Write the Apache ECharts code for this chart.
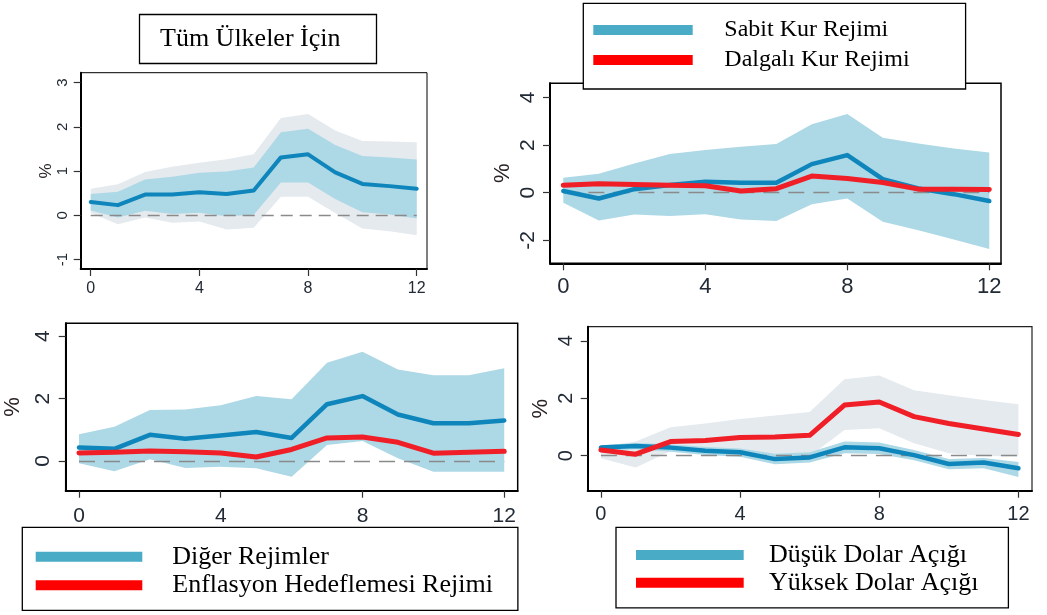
<!DOCTYPE html>
<html><head><meta charset="utf-8">
<script src="https://cdn.jsdelivr.net/npm/echarts@6/dist/echarts.min.js"></script>
<style>html,body{margin:0;padding:0;background:#fff}#c{width:1047px;height:615px}</style>
</head><body><div id="c"></div>
<script>
// ---- data ----
const horizons = [0,1,2,3,4,5,6,7,8,9,10,11,12];
const xTicks = [0,4,8,12];
const yTicks1 = [-1,0,1,2,3];
const yTicks2 = [-2,0,2,4];
const yTicks34 = [0,2,4];

// Panel 1: Tüm Ülkeler İçin
const allMean      = [0.30,0.23,0.47,0.47,0.52,0.48,0.56,1.31,1.38,0.97,0.71,0.66,0.60];
const allInnerLow  = [0.11,-0.05,0.10,0.03,0.06,-0.02,0.01,0.74,0.74,0.37,0.07,0.02,-0.07];
const allInnerHigh = [0.48,0.53,0.81,0.87,0.96,0.99,1.08,1.88,1.96,1.59,1.34,1.31,1.26];
const allOuterLow  = [0.05,-0.20,-0.05,-0.17,-0.14,-0.32,-0.28,0.42,0.42,0.05,-0.30,-0.36,-0.45];
const allOuterHigh = [0.60,0.70,0.98,1.10,1.19,1.27,1.38,2.20,2.29,1.92,1.68,1.67,1.65];

// Panel 2: Sabit / Dalgalı
const fixMean   = [0.07,-0.24,0.15,0.32,0.46,0.42,0.42,1.20,1.58,0.57,0.18,-0.06,-0.35];
const floatMean = [0.31,0.38,0.35,0.31,0.29,0.07,0.17,0.70,0.60,0.43,0.15,0.15,0.14];
const fixLow    = [-0.42,-1.17,-0.91,-0.98,-0.90,-1.12,-1.19,-0.48,-0.24,-1.22,-1.57,-1.96,-2.36];
const fixHigh   = [0.63,0.80,1.23,1.62,1.79,1.93,2.04,2.87,3.30,2.31,2.07,1.86,1.69];

// Panel 3: Diğer / Enflasyon Hedeflemesi
const otherMean = [0.43,0.39,0.84,0.71,0.82,0.93,0.74,1.82,2.08,1.49,1.21,1.21,1.30];
const itMean    = [0.26,0.28,0.32,0.30,0.26,0.13,0.37,0.74,0.77,0.60,0.25,0.28,0.31];
const otherLow  = [-0.07,-0.33,0.06,-0.22,-0.18,-0.23,-0.50,0.51,0.64,0.09,-0.34,-0.34,-0.34];
const otherHigh = [0.86,1.10,1.63,1.65,1.79,2.08,1.98,3.15,3.50,2.93,2.75,2.75,2.97];

// Panel 4: Düşük / Yüksek Dolar Açığı
const lowDolMean  = [0.28,0.34,0.28,0.17,0.12,-0.12,-0.06,0.29,0.26,0.02,-0.29,-0.24,-0.44];
const lowDolLow   = [0.16,0.22,0.14,0.02,-0.04,-0.30,-0.24,0.08,0.06,-0.16,-0.47,-0.44,-0.74];
const lowDolHigh  = [0.36,0.44,0.40,0.30,0.25,0.07,0.12,0.49,0.46,0.20,-0.12,-0.08,-0.22];
const highDolMean = [0.20,0.05,0.49,0.53,0.63,0.65,0.71,1.76,1.87,1.36,1.12,0.93,0.74];
const highDolLow  = [-0.09,-0.41,0.15,0.08,0.04,-0.02,-0.02,0.89,0.95,0.43,0.08,-0.01,-0.03];
const highDolHigh = [0.31,0.49,0.99,1.12,1.28,1.40,1.52,2.66,2.79,2.28,2.10,1.94,1.79];

const names = {
  title: 'Tüm Ülkeler İçin',
  fix: 'Sabit Kur Rejimi', flt: 'Dalgalı Kur Rejimi',
  other: 'Diğer Rejimler', it: 'Enflasyon Hedeflemesi Rejimi',
  low: 'Düşük Dolar Açığı', high: 'Yüksek Dolar Açığı'
};

// ---- styling ----
const BLUE = '#0e85bb', RED = '#f01f27', BAND = '#add8e6', GREY = '#e5eaee';
const LEG_BLUE = '#4aabc6', LEG_RED = '#ff0000';
const LBL = '#222a35';
const SANS = '"Liberation Sans", Arial, sans-serif';
const SERIF = '"Liberation Serif", "Times New Roman", serif';

const pair = arr => horizons.map((x, i) => [x, arr[i]]);

function xAx(gi, min, max, fs, margin) {
  return { type:'value', gridIndex:gi, min, max,
    axisLine:{show:true, onZero:false, lineStyle:{color:'#000', width:2}},
    axisTick:{show:true, customValues:xTicks, length:7, lineStyle:{color:'#333', width:1.2}},
    axisLabel:{customValues:xTicks, fontSize:fs, fontFamily:SANS, color:LBL, margin},
    splitLine:{show:false} };
}
function yAx(gi, min, max, ticks, fs, margin, nameGap, nfs) {
  return { type:'value', gridIndex:gi, min, max,
    name:'%', nameLocation:'middle', nameRotate:90, nameGap,
    nameTextStyle:{fontSize:nfs, fontFamily:SANS, color:'#2a2226'},
    axisLine:{show:true, onZero:false, lineStyle:{color:'#000', width:2}},
    axisTick:{show:true, customValues:ticks, length:7, lineStyle:{color:'#333', width:1.2}},
    axisLabel:{customValues:ticks, rotate:90, fontSize:fs, fontFamily:SANS, color:LBL, margin},
    splitLine:{show:false} };
}
// confidence band drawn as one polygon through the axes' scales
function band(gi, low, high, color) {
  return {type:'custom', xAxisIndex:gi, yAxisIndex:gi, silent:true, z:1,
    data: horizons.map((x, i) => [x, low[i], high[i]]),
    encode:{x:0, y:[1,2]},
    renderItem(params, api) {
      if (params.dataIndex !== 0) return null;
      const up = horizons.map((x, i) => api.coord([x, high[i]]));
      const dn = horizons.map((x, i) => api.coord([x, low[i]])).reverse();
      return {type:'polygon', shape:{points: up.concat(dn)}, style:{fill:color, stroke:null}};
    }};
}
function meanLine(gi, name, arr, color, width, z, zero, dash) {
  const s = {type:'line', name, xAxisIndex:gi, yAxisIndex:gi, data:pair(arr), symbol:'none',
    lineStyle:{color, width, join:'round', cap:'round'}, itemStyle:{color}, z, silent:true};
  if (zero) s.markLine = {silent:true, symbol:'none', label:{show:false}, z:2,
    lineStyle:{color:'#8a8a8a', type:dash, width:1.3},
    data:[[{coord:[horizons[0], 0]}, {coord:[horizons[horizons.length-1], 0]}]]};
  return s;
}
function legend(left, top, padding, iw, fs, lh, gap, items) {
  return { orient:'vertical', left, top, padding, itemWidth:iw, itemHeight:10, itemGap:0,
    icon:'rect', borderColor:'#000', borderWidth:1.3, backgroundColor:'#fff', selectedMode:false,
    textStyle:{fontFamily:SERIF, fontSize:fs, color:'#000', lineHeight:lh, padding:[0,0,0,gap]},
    data: items.map(([name, color]) => ({name, itemStyle:{color}})) };
}

const option = {
  animation:false,
  backgroundColor:'#fff',
  title:{ text:names.title, left:139, top:14, padding:[10,36,10,21],
    borderColor:'#000', borderWidth:1.3,
    textStyle:{fontFamily:SERIF, fontSize:26, fontWeight:'normal', color:'#000', lineHeight:30} },
  grid:[
    {left:80.7, top:72.7, width:346.3, height:196.3, show:true, borderColor:'#000', borderWidth:1, backgroundColor:'#fff'},
    {left:550, top:83.3, width:451, height:180, show:true, borderColor:'#000', borderWidth:1.5, backgroundColor:'#fff'},
    {left:65.7, top:323.3, width:452, height:167.4, show:true, borderColor:'#000', borderWidth:1.5, backgroundColor:'#fff'},
    {left:587.7, top:326.7, width:444.3, height:164, show:true, borderColor:'#222', borderWidth:1.2, backgroundColor:'#fff'}
  ],
  xAxis:[
    xAx(0, -0.368, 12.378, 16, 12),
    xAx(1, -0.375, 12.33, 22, 13),
    xAx(2, -0.375, 12.38, 21, 15),
    xAx(3, -0.38, 12.39, 20, 14)
  ],
  yAxis:[
    yAx(0, -1.215, 3.226, yTicks1, 15, 10, 20, 17),
    yAx(1, -2.96, 4.59, yTicks2, 21, 11, 36, 22),
    yAx(2, -0.95, 4.41, yTicks34, 21, 12, 42, 22),
    yAx(3, -1.22, 4.49, yTicks34, 20, 11, 36, 22)
  ],
  legend:[
    legend(583.3, 3.3, [11.7,56,14,10], 99.4, 24, 30, 26.6, [[names.fix, LEG_BLUE],[names.flt, LEG_RED]]),
    legend(22.3, 527.3, [15.4,25,11,13.4], 106.6, 26, 28.3, 25, [[names.other, LEG_BLUE],[names.it, LEG_RED]]),
    legend(616, 527.3, [13.9,30,11.2,20], 107.7, 26, 27.7, 20.3, [[names.low, LEG_BLUE],[names.high, LEG_RED]])
  ],
  series:[
    band(0, allOuterLow, allOuterHigh, GREY),
    band(0, allInnerLow, allInnerHigh, BAND),
    meanLine(0, 'all', allMean, BLUE, 4, 3, true, [12,7]),

    band(1, fixLow, fixHigh, BAND),
    meanLine(1, names.fix, fixMean, BLUE, 4.5, 3, true, [16,9]),
    meanLine(1, names.flt, floatMean, RED, 5, 4, false),

    band(2, otherLow, otherHigh, BAND),
    meanLine(2, names.other, otherMean, BLUE, 4.5, 3, true, [16,9]),
    meanLine(2, names.it, itMean, RED, 5, 4, false),

    band(3, highDolLow, highDolHigh, GREY),
    band(3, lowDolLow, lowDolHigh, BAND),
    meanLine(3, names.low, lowDolMean, BLUE, 4.5, 3, true, [16,9]),
    meanLine(3, names.high, highDolMean, RED, 5, 4, false)
  ]
};
const chart = echarts.init(document.getElementById('c'), null, {renderer:'canvas'});
chart.setOption(option);
</script>
</body></html>
